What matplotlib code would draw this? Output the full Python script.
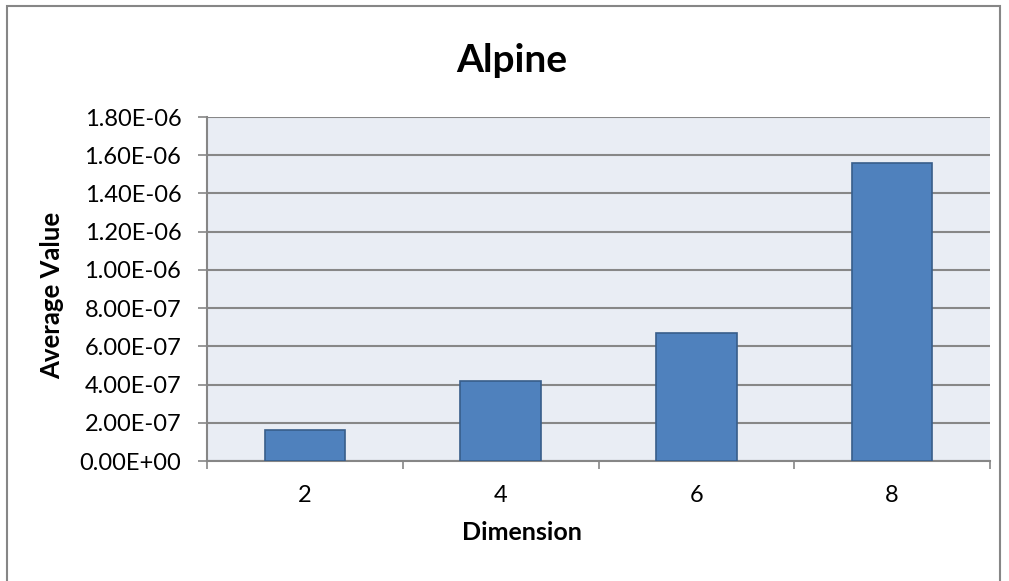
import numpy as np
import matplotlib.pyplot as plt
from matplotlib.patches import Rectangle
from matplotlib.ticker import FuncFormatter

# Average value per dimension
dimensions = ['2', '4', '6', '8']
avg_values = [1.62e-07, 4.19e-07, 6.72e-07, 1.559e-06]
y_ticks = np.arange(0, 1.8e-06 + 1e-12, 2e-07)

plt.rcParams['font.family'] = ['Lato', 'DejaVu Sans']

fig = plt.figure(figsize=(10.09, 5.81), dpi=100)
fig.patch.set_facecolor('white')

# outer chart frame
fig.patches.append(Rectangle((7 / 1009, -0.1), 993 / 1009, 1.1 - 6 / 581, transform=fig.transFigure,
                             fill=False, edgecolor='#868686', linewidth=1.5))

ax = fig.add_axes([207 / 1009, 120 / 581, 783 / 1009, 344 / 581])
ax.set_facecolor('#E9EDF4')

x = np.arange(len(dimensions))
ax.bar(x, avg_values, width=0.41, color='#4F81BD', edgecolor='#385D8A', linewidth=1.2, zorder=3)

ax.set_xlim(-0.5, len(dimensions) - 0.5)
ax.set_ylim(0, 1.8e-06)
ax.set_yticks(y_ticks)
ax.yaxis.set_major_formatter(FuncFormatter(lambda v, p: f'{v:.2E}'))
ax.set_xticks(x)
ax.set_xticklabels(dimensions)
ax.set_xticks(np.arange(-0.5, len(dimensions) + 0.5), minor=True)
ax.tick_params(axis='x', which='major', length=0, pad=17, labelsize=17)
ax.tick_params(axis='x', which='minor', length=6, color='#868686', width=1.2)
ax.tick_params(axis='y', length=6.5, color='#868686', width=1.2, labelsize=17, pad=12)

ax.grid(axis='y', color='#878787', linewidth=1.5, zorder=1)
for side in ['top', 'right']:
    ax.spines[side].set_visible(False)
for side in ['left', 'bottom']:
    ax.spines[side].set_color('#868686')
    ax.spines[side].set_linewidth(1.5)

fig.text(512 / 1009, 1 - 72 / 581, 'Alpine', fontsize=28, fontweight='bold', ha='center', va='baseline')
fig.text(522 / 1009, 1 - 540 / 581, 'Dimension', fontsize=18, fontweight='bold', ha='center', va='baseline')
fig.text(52 / 1009, 1 - 295 / 581, 'Average Value', fontsize=18.5, fontweight='bold', ha='center', va='center',
         rotation=90)

fig.savefig('out.png', dpi=100)
